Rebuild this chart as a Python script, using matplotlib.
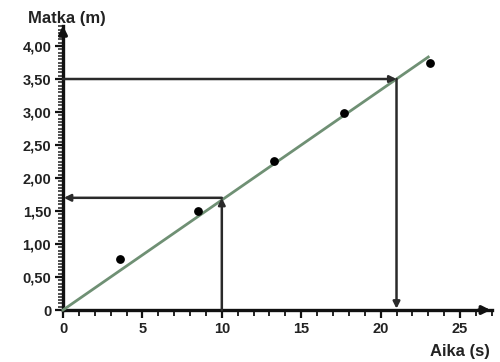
import matplotlib
matplotlib.use("Agg")
import matplotlib.pyplot as plt
from matplotlib.ticker import MultipleLocator, FuncFormatter

# Data
time_s = [3.6, 8.5, 13.3, 17.7, 23.1]
dist_m = [0.77, 1.50, 2.26, 2.98, 3.74]
fit_x = [0, 23]
fit_y = [0, 23 / 6]
read1_t, read1_d = 10, 1.70
read2_t, read2_d = 21, 3.50
x_ticks = [0, 5, 10, 15, 20, 25]
y_ticks = [0, 0.5, 1.0, 1.5, 2.0, 2.5, 3.0, 3.5, 4.0]

plt.rcParams['font.family'] = ['Liberation Sans Narrow', 'Liberation Sans', 'DejaVu Sans']

fig = plt.figure(figsize=(5, 3.62), dpi=100)
ax = fig.add_axes([0.126, 0.1436, 0.8576, 0.784])
ax.set_xlim(0, 27)
ax.set_ylim(0, 4.3)

for s in ['top', 'right']:
    ax.spines[s].set_visible(False)
for s in ['left', 'bottom']:
    ax.spines[s].set_linewidth(2.4)
    ax.spines[s].set_color('#111111')

def yfmt(v):
    if abs(v) < 1e-9:
        return '0'
    return f"{v:.2f}".replace('.', ',')

ax.set_xticks(x_ticks)
ax.set_yticks(y_ticks)
ax.set_yticklabels([yfmt(v) for v in y_ticks], fontweight='bold', color='#222222')
ax.set_xticklabels([str(v) for v in x_ticks], fontweight='bold', color='#222222')
ax.xaxis.set_minor_locator(MultipleLocator(1))
ax.yaxis.set_minor_locator(MultipleLocator(0.05))

ax.tick_params(axis='both', which='major', length=6, width=1.6, color='#111111',
               labelsize=10.5, pad=2.5)
ax.tick_params(axis='x', which='minor', length=4, width=1.3, color='#111111')
ax.tick_params(axis='y', which='minor', length=3.5, width=1.1, color='#222222')

# axis arrows
ax.annotate('', xy=(27.1, 0), xytext=(26.0, 0),
            arrowprops=dict(arrowstyle='-|>', color='#111111', lw=2.4, mutation_scale=12),
            annotation_clip=False)
ax.annotate('', xy=(0, 4.35), xytext=(0, 4.1),
            arrowprops=dict(arrowstyle='-|>', color='#111111', lw=2.4, mutation_scale=12),
            annotation_clip=False)

# fit line
ax.plot(fit_x, fit_y, color='#6f9074', lw=2, zorder=3, clip_on=False)

# data points
ax.scatter(time_s, dist_m, s=28, color='black', zorder=4, clip_on=False)

arrow_kw = dict(arrowstyle='-|>', color='#2a2a2a', lw=1.8, mutation_scale=10,
                shrinkA=0, shrinkB=0)
# reading 1: up from x=10 to line, then left to y-axis
ax.annotate('', xy=(read1_t, read1_d), xytext=(read1_t, 0), arrowprops=arrow_kw)
ax.annotate('', xy=(0.05, read1_d), xytext=(read1_t, read1_d), arrowprops=arrow_kw)
# reading 2: right from y-axis to line, then down to x-axis
ax.annotate('', xy=(read2_t, read2_d), xytext=(0, read2_d), arrowprops=arrow_kw)
ax.annotate('', xy=(read2_t, 0.02), xytext=(read2_t, read2_d), arrowprops=arrow_kw)

fig.text(0.056, 0.948, 'Matka (m)', fontsize=12, fontweight='bold', color='#222222',
         va='center', ha='left')
fig.text(0.98, 0.028, 'Aika (s)', fontsize=12, fontweight='bold', color='#222222',
         va='center', ha='right')

fig.savefig('out.png', dpi=100)
